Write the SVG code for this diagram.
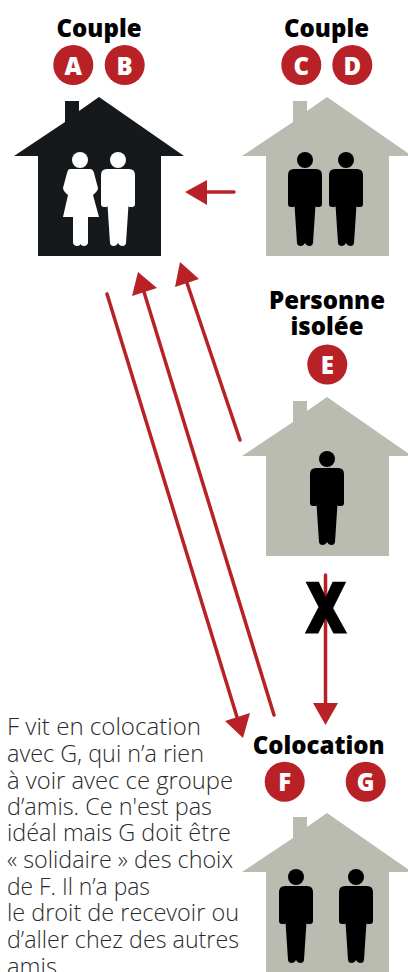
<svg xmlns="http://www.w3.org/2000/svg" width="408" height="972" viewBox="0 0 408 972">
<style>
.h{font-family:"Open Sans","Liberation Sans",sans-serif;font-weight:800;font-size:24px;fill:#000;text-anchor:middle}
.b{fill:#b82227}
.l{font-family:"Open Sans","Liberation Sans",sans-serif;font-weight:800;font-size:24px;fill:#fff;text-anchor:middle}
.t{font-family:"Open Sans","Liberation Sans",sans-serif;font-weight:300;font-size:24px;fill:#2b2b2b}
.c{stroke:#b82227;stroke-width:3.500;fill:none;stroke-linecap:round}
.a{fill:#b82227}
</style>
<defs>
<path id="house" d="M99,97 L184,156 H161 V256 H38 V156 H14 L65,122 V101 H79 V111 Z"/>
<g id="man"><circle cx="0" cy="0" r="8"/><path d="M-11,9 H11 Q17,9 17,15 V44 Q17,47 14,47 H11 Q10.500,47 10.500,45 L8,83 Q7.500,86 4.500,86 Q1.500,86 0,83 Q-1.500,86 -4.500,86 Q-7.500,86 -8,83 L-10.500,45 Q-10.500,47 -11,47 H-14 Q-17,47 -17,44 V15 Q-17,9 -11,9 Z"/></g>
</defs>
<g id="connectors">
<line class="c" x1="234" y1="192" x2="205" y2="192"/><polygon class="a" points="185,192 207,180 207,205"/>
<line class="c" x1="240" y1="440" x2="187" y2="283"/><polygon class="a" points="180,262 199,279 175,287"/>
<line class="c" x1="274" y1="715" x2="144" y2="292"/><polygon class="a" points="138,272 157,288 132,296"/>
<line class="c" x1="107" y1="294" x2="237" y2="717"/><polygon class="a" points="243,738 225,721 250,713"/>
<line class="c" x1="325.500" y1="575" x2="325.500" y2="705"/><polygon class="a" points="325.500,725 313,703 338,703"/>
</g>
<text id="x-mark" x="326" y="632.500" textLength="41" lengthAdjust="spacingAndGlyphs" style="font-family:'Open Sans','Liberation Sans',sans-serif;font-weight:800;font-size:70px;fill:#000;stroke:#000;stroke-width:1.200;text-anchor:middle">X</text>
<g id="node-ab">
<text class="h" x="99" y="37">Couple</text>
<circle class="b" cx="73.300" cy="65" r="20"/><text class="l" x="73.300" y="74.500">A</text>
<circle class="b" cx="124.700" cy="65" r="20"/><text class="l" x="124.700" y="74.500">B</text>
<use href="#house" fill="#15191b"/>
<g fill="#fff"><circle cx="80" cy="160" r="8"/>
<path d="M70,169 H90 Q93,169 94,173 L98,188 Q98,191 93,195 L99,217 H88 V243 Q87,246 84,246 Q81,246 80.500,244 Q80,246 77,246 Q74,246 73,243 V217 H63 L68,195 Q63,191 63,188 L67,173 Q68,169 70,169 Z"/>
<use href="#man" x="118" y="160"/></g>
</g>
<g id="node-cd">
<text class="h" x="326.500" y="37">Couple</text>
<circle class="b" cx="301.300" cy="65" r="20"/><text class="l" x="301.300" y="74.500">C</text>
<circle class="b" cx="352.300" cy="65" r="20"/><text class="l" x="352.300" y="74.500">D</text>
<use href="#house" x="228" fill="#babbb1"/>
<use href="#man" x="305" y="160"/><use href="#man" x="346" y="160"/>
</g>
<g id="node-e">
<text class="h" x="327" y="309">Personne</text>
<text class="h" x="327" y="335">isolée</text>
<circle class="b" cx="327.300" cy="364.500" r="20"/><text class="l" x="327.300" y="374">E</text>
<use href="#house" x="228" y="300" fill="#babbb1"/>
<use href="#man" x="327" y="459"/>
</g>
<g id="node-fg">
<text class="h" x="318.700" y="754">Colocation</text>
<circle class="b" cx="284.700" cy="781.700" r="20"/><text class="l" x="284.700" y="791">F</text>
<circle class="b" cx="365.700" cy="781.700" r="20"/><text class="l" x="365.700" y="791">G</text>
<use href="#house" x="228" y="716" fill="#babbb1"/>
<use href="#man" x="296" y="877"/><use href="#man" x="356" y="877"/>
</g>
<g id="note" class="t">
<text x="7" y="735" textLength="194" lengthAdjust="spacingAndGlyphs">F vit en colocation</text>
<text x="7" y="762" textLength="197" lengthAdjust="spacingAndGlyphs">avec G, qui n’a rien</text>
<text x="7" y="789" textLength="226" lengthAdjust="spacingAndGlyphs">à voir avec ce groupe</text>
<text x="7" y="815" textLength="205" lengthAdjust="spacingAndGlyphs">d’amis. Ce n'est pas</text>
<text x="7" y="841" textLength="224" lengthAdjust="spacingAndGlyphs">idéal mais G doit être</text>
<text x="7" y="868" textLength="226" lengthAdjust="spacingAndGlyphs">« solidaire » des choix</text>
<text x="7" y="895" textLength="143" lengthAdjust="spacingAndGlyphs">de F. Il n’a pas</text>
<text x="7" y="921" textLength="232" lengthAdjust="spacingAndGlyphs">le droit de recevoir ou</text>
<text x="7" y="948" textLength="232" lengthAdjust="spacingAndGlyphs">d’aller chez des autres</text>
<text x="7" y="975" textLength="50" lengthAdjust="spacingAndGlyphs">amis</text>
</g>
</svg>
